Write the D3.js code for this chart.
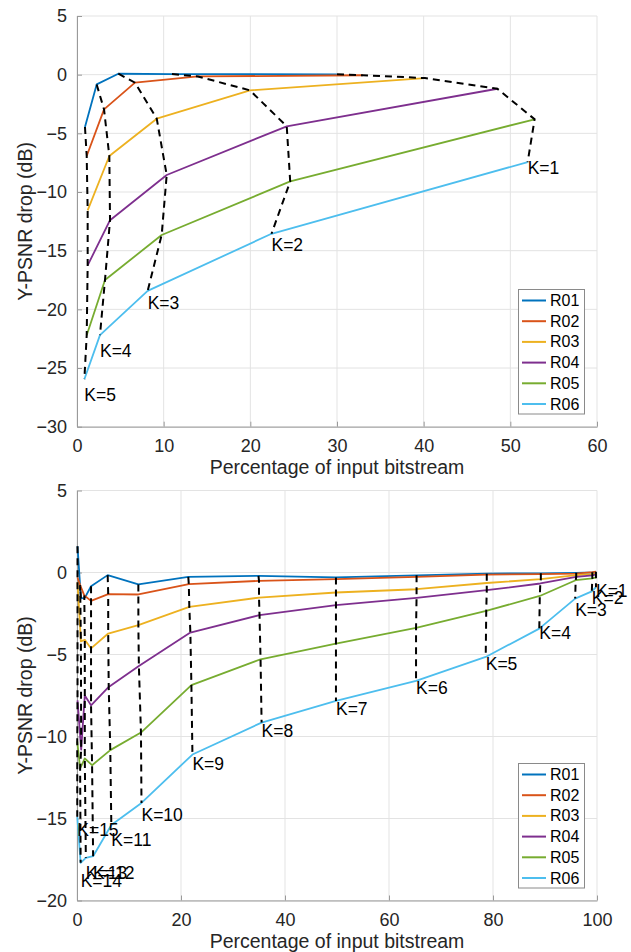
<!DOCTYPE html>
<html lang="en">
  <head>
    <meta charset="utf-8">
    <script src="https://d3js.org/d3.v7.min.js"></script>
    <title>Y-PSNR drop vs percentage of input bitstream</title>
    <style>
      body { margin: 0; background: #fff; }
      svg { display: block; font-family: "Liberation Sans", Arial, Helvetica, sans-serif; }
    </style>
  </head>
  <body>
    <script>

    // series names + matlab default colours
    var seriesNames = ["R01", "R02", "R03", "R04", "R05", "R06"];
    var seriesColors = ["#0072BD", "#D95319", "#EDB120", "#7E2F8E", "#77AC30", "#4DBEEE"];

    // top panel, K = 1..5 for every series
    var topX = [
      [30.0, 10.96, 4.77, 2.27, 0.92],
      [33.0, 13.96, 6.69, 3.12, 1.12],
      [40.15, 19.96, 9.2, 3.73, 1.23],
      [48.5, 24.2, 10.35, 3.81, 1.23],
      [52.8, 24.6, 9.77, 3.23, 1.12],
      [52.0, 22.44, 8.15, 2.65, 0.85]
    ];
    var topY = [
      [0.03, 0.05, 0.08, -0.83, -4.46],
      [-0.05, -0.15, -0.68, -2.96, -6.93],
      [-0.29, -1.34, -3.75, -6.93, -11.56],
      [-1.2, -4.4, -8.55, -12.4, -16.25],
      [-3.8, -9.1, -13.66, -17.5, -22.2],
      [-7.45, -13.56, -18.43, -22.2, -25.95]
    ];

    // bottom panel, K = 1..15 for every series
    var bottomX = [
      [99.8, 99.1, 96.0, 89.2, 78.8, 65.3, 49.8, 34.9, 21.4, 11.8, 5.9, 2.7, 1.5, 0.75, 0.1],
      [99.8, 99.1, 96.0, 89.2, 78.8, 65.3, 49.8, 35.0, 21.5, 11.8, 6.0, 2.7, 1.4, 0.6, 0.1],
      [99.8, 99.1, 96.0, 89.2, 78.8, 65.3, 49.8, 35.0, 21.6, 11.8, 6.0, 2.7, 1.5, 0.75, 0.1],
      [99.8, 99.1, 96.0, 89.1, 78.8, 65.3, 49.8, 35.1, 21.8, 11.9, 6.1, 2.7, 1.5, 0.8, 0.1],
      [99.8, 99.1, 95.9, 89.0, 78.7, 65.2, 49.8, 35.3, 22.0, 12.3, 6.4, 2.9, 1.5, 0.6, 0.05],
      [99.8, 99.0, 95.8, 88.9, 78.6, 65.2, 49.8, 35.5, 22.2, 12.4, 6.6, 3.1, 1.7, 0.7, 0.05]
    ];
    var bottomY = [
      [0.02, 0.0, -0.02, -0.05, -0.07, -0.17, -0.3, -0.2, -0.27, -0.73, -0.16, -0.84, -1.55, -1.58, 1.6],
      [0.05, 0.02, -0.07, -0.1, -0.13, -0.27, -0.4, -0.51, -0.71, -1.34, -1.32, -1.73, -1.4, -0.77, -0.3],
      [-0.05, -0.1, -0.16, -0.41, -0.64, -1.02, -1.22, -1.53, -2.1, -3.21, -3.72, -4.63, -4.1, -4.2, -0.6],
      [-0.12, -0.18, -0.27, -0.67, -1.08, -1.55, -1.99, -2.6, -3.66, -5.7, -6.98, -8.1, -7.5, -10.8, -7.8],
      [-0.3, -0.36, -0.47, -1.43, -2.34, -3.38, -4.33, -5.29, -6.87, -9.76, -10.83, -11.75, -11.34, -11.95, -10.3],
      [-0.9, -1.15, -1.59, -3.42, -5.15, -6.61, -7.83, -9.15, -11.1, -14.05, -15.4, -17.3, -17.4, -17.7, -14.9]
    ];

    var topXTicks = [0, 10, 20, 30, 40, 50, 60];
    var topYTicks = [5, 0, -5, -10, -15, -20, -25, -30];
    var bottomXTicks = [0, 20, 40, 60, 80, 100];
    var bottomYTicks = [5, 0, -5, -10, -15, -20];

    var xLabel = "Percentage of input bitstream";
    var yLabel = "Y-PSNR drop (dB)";

    var svg = d3.select("body").append("svg")
      .attr("width", 631)
      .attr("height", 952);

    function drawPanel(p) {
      var x = d3.scaleLinear().domain(p.xDomain).range([77, 597]);
      var y = d3.scaleLinear().domain(p.yDomain).range([p.bottom, p.top]);
      var g = svg.append("g");

      // grid
      g.selectAll(".vgrid").data(p.xTicks).enter().append("line")
        .attr("x1", function(d){ return x(d); }).attr("x2", function(d){ return x(d); })
        .attr("y1", p.top).attr("y2", p.bottom)
        .attr("stroke", "#e3e3e3").attr("stroke-width", 1);
      g.selectAll(".hgrid").data(p.yTicks).enter().append("line")
        .attr("x1", 77).attr("x2", 597)
        .attr("y1", function(d){ return y(d); }).attr("y2", function(d){ return y(d); })
        .attr("stroke", "#e3e3e3").attr("stroke-width", 1);

      // axes (ticks inside, like matlab)
      var xAxis = g.append("g")
        .attr("transform", "translate(0," + p.bottom + ")")
        .call(d3.axisBottom(x).tickValues(p.xTicks).tickSizeInner(-5).tickSizeOuter(0).tickPadding(13));
      var yAxis = g.append("g")
        .attr("transform", "translate(77,0)")
        .call(d3.axisLeft(y).tickValues(p.yTicks).tickSizeInner(-5).tickSizeOuter(0).tickPadding(10));
      [xAxis, yAxis].forEach(function(a){
        a.select(".domain").attr("stroke", "#9a9a9a").attr("stroke-width", 1);
        a.selectAll(".tick line").attr("stroke", "#9a9a9a");
        a.selectAll(".tick text").attr("fill", "#262626").style("font-size", "18px")
          .style("font-family", "Liberation Sans, Arial, sans-serif");
      });

      // series lines
      var line = d3.line()
        .x(function(d){ return x(d[0]); })
        .y(function(d){ return y(d[1]); });
      p.xs.forEach(function(xs, i){
        var pts = xs.map(function(v, k){ return [v, p.ys[i][k]]; });
        g.append("path").attr("d", line(pts))
          .attr("fill", "none").attr("stroke", seriesColors[i]).attr("stroke-width", 1.8)
          .attr("stroke-linejoin", "round");
      });

      // dashed K curves across series
      var nK = p.xs[0].length;
      for (var k = 0; k < nK; k++) {
        var pts = p.xs.map(function(xs, i){ return [xs[k], p.ys[i][k]]; });
        g.append("path").attr("d", line(pts))
          .attr("fill", "none").attr("stroke", "#000").attr("stroke-width", 2)
          .attr("stroke-dasharray", "7,5");
      }

      // K labels at the last series
      var last = p.xs.length - 1;
      for (var k = 0; k < nK; k++) {
        g.append("text")
          .attr("x", x(p.xs[last][k]))
          .attr("y", y(p.ys[last][k]) + p.labelDy[k])
          .attr("dominant-baseline", "central")
          .style("font-size", "17.5px")
          .attr("fill", "#000")
          .text("K=" + (k + 1));
      }

      // axis titles
      g.append("text")
        .attr("x", 337).attr("y", p.bottom + 40)
        .attr("text-anchor", "middle").attr("dominant-baseline", "central")
        .attr("fill", "#262626").style("font-size", "19.5px")
        .text(xLabel);
      g.append("text")
        .attr("transform", "translate(25," + ((p.top + p.bottom) / 2) + ") rotate(-90)")
        .attr("text-anchor", "middle").attr("dominant-baseline", "central")
        .attr("fill", "#262626").style("font-size", "19.5px")
        .text(yLabel);

      // legend
      var lg = g.append("g").attr("transform", "translate(518.5," + p.legendTop + ")");
      lg.append("rect").attr("width", 66).attr("height", 124.5)
        .attr("fill", "#fff").attr("stroke", "#8a8a8a").attr("stroke-width", 1);
      seriesNames.forEach(function(name, i){
        var ry = 11 + i * 20.7;
        lg.append("line").attr("x1", 3.5).attr("x2", 27.5).attr("y1", ry).attr("y2", ry)
          .attr("stroke", seriesColors[i]).attr("stroke-width", 2);
        lg.append("text").attr("x", 31.5).attr("y", ry)
          .attr("dominant-baseline", "central")
          .style("font-size", "16px").attr("fill", "#000")
          .text(name);
      });
    }

    drawPanel({
      xDomain: [0, 60], yDomain: [-30, 5], top: 16, bottom: 426.7,
      xTicks: topXTicks, yTicks: topYTicks,
      xs: topX, ys: topY,
      labelDy: [6, 11.5, 11.6, 15.7, 15.7],
      legendTop: 289.5
    });

    drawPanel({
      xDomain: [0, 100], yDomain: [-20, 5], top: 490.5, bottom: 900.5,
      xTicks: bottomXTicks, yTicks: bottomYTicks,
      xs: bottomX, ys: bottomY,
      labelDy: [4, 7, 11, 4.4, 6.7, 7, 7.7, 8.3, 9.7, 12, 15, 17, 15, 18, 13],
      legendTop: 763.5
    });

    </script>
  </body>
</html>
